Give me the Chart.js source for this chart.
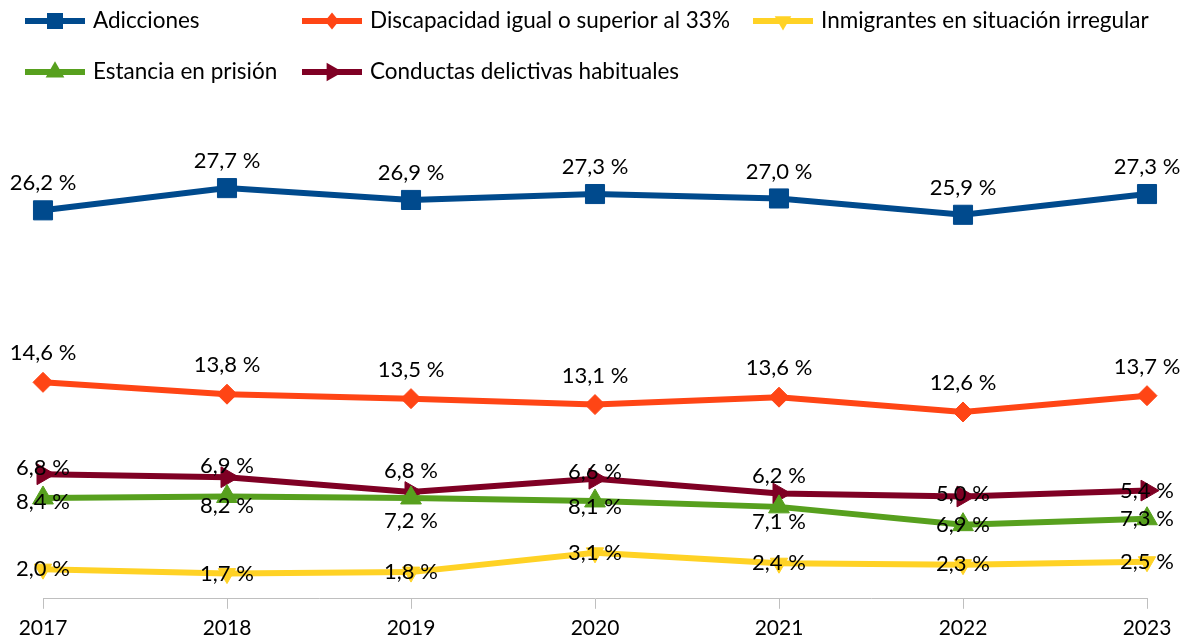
<!DOCTYPE html>
<html>
<head>
<meta charset="utf-8">
<style>
  html, body { margin: 0; padding: 0; background: #ffffff; }
  #wrap { width: 1181px; height: 639px; }
</style>
<script src="https://cdn.jsdelivr.net/npm/chart.js@4.4.1/dist/chart.umd.min.js"></script>
</head>
<body>
<div id="wrap"><canvas id="c" width="1181" height="639"></canvas></div>
<script>
// ---- Datos ----
const years = ['2017', '2018', '2019', '2020', '2021', '2022', '2023'];
const seriesNames = [
  'Adicciones',
  'Discapacidad igual o superior al 33%',
  'Inmigrantes en situación irregular',
  'Estancia en prisión',
  'Conductas delictivas habituales'
];
const adicciones = [26.2, 27.7, 26.9, 27.3, 27.0, 25.9, 27.3];
const discapacidad = [14.6, 13.8, 13.5, 13.1, 13.6, 12.6, 13.7];
const inmigrantes = [2.0, 1.7, 1.8, 3.1, 2.4, 2.3, 2.5];
const estanciaPrision = [6.8, 6.9, 6.8, 6.6, 6.2, 5.0, 5.4];
const conductasDelictivas = [8.4, 8.2, 7.2, 8.1, 7.1, 6.9, 7.3];
// Etiquetas de datos tal como aparecen en el gráfico original
const adiccionesEtiquetas = adicciones;
const discapacidadEtiquetas = discapacidad;
const inmigrantesEtiquetas = inmigrantes;
const estanciaPrisionEtiquetas = [8.4, 8.2, 7.2, 8.1, 7.1, 6.9, 7.3];
const conductasDelictivasEtiquetas = [6.8, 6.9, 6.8, 6.6, 6.2, 5.0, 5.4];

// ---- Estilos ----
const FONT = 'Lato, "Open Sans", sans-serif';
const colors = ['#004A8D', '#FF4515', '#FFD225', '#57A01E', '#7F0024'];
const markers = [
  { style: 'rect', radius: 13.5, rotation: 0, legendSize: 8 },
  { style: 'rectRot', radius: 10, rotation: 0, legendSize: 7 },
  { style: 'triangle', radius: 10, rotation: 180, legendSize: 8 },
  { style: 'triangle', radius: 12, rotation: 0, legendSize: 9 },
  { style: 'triangle', radius: 12, rotation: 90, legendSize: 9 }
];
// desplazamiento vertical de cada etiqueta respecto a su punto
const labelDy = [
  [-27, -27, -27, -27, -27, -27, -27],
  [-29, -29, -29, -29, -29, -29, -29],
  [0, 0, 0, 0, 0, -1, 0],
  [4, 9, 23, 6, 15, 0, 0],
  [-6, -11, -21, -7, -18, -3, 0]
];

const values = [adicciones, discapacidad, inmigrantes, estanciaPrision, conductasDelictivas];
const labelValues = [adiccionesEtiquetas, discapacidadEtiquetas, inmigrantesEtiquetas,
                     estanciaPrisionEtiquetas, conductasDelictivasEtiquetas];

const datasets = values.map((v, i) => ({
  label: seriesNames[i],
  data: v,
  borderColor: colors[i],
  backgroundColor: colors[i],
  borderWidth: 6,
  pointStyle: markers[i].style,
  pointRadius: markers[i].radius,
  pointRotation: markers[i].rotation,
  pointBackgroundColor: colors[i],
  pointBorderColor: colors[i],
  pointBorderWidth: 1,
  tension: 0,
  clip: false,
  fill: false
}));

function fmt(v) {
  return v.toFixed(1).replace('.', ',') + ' %';
}

const dataLabelsPlugin = {
  id: 'dataLabels',
  afterDatasetsDraw(chart) {
    const ctx = chart.ctx;
    ctx.save();
    ctx.font = '22px ' + FONT;
    ctx.fillStyle = '#000000';
    ctx.textAlign = 'center';
    ctx.textBaseline = 'middle';
    chart.data.datasets.forEach((ds, di) => {
      const meta = chart.getDatasetMeta(di);
      meta.data.forEach((pt, pi) => {
        ctx.fillText(fmt(labelValues[di][pi]), pt.x, pt.y + labelDy[di][pi]);
      });
    });
    ctx.restore();
  }
};

function drawMarker(ctx, style, rotation, x, y, s) {
  ctx.beginPath();
  if (style === 'rect') {
    ctx.rect(x - s, y - s, 2 * s, 2 * s);
  } else if (style === 'rectRot') {
    ctx.moveTo(x, y - s * 1.2);
    ctx.lineTo(x + s, y);
    ctx.lineTo(x, y + s * 1.2);
    ctx.lineTo(x - s, y);
  } else {
    const r = s * 1.2;
    let a = rotation * Math.PI / 180;
    for (let k = 0; k < 3; k++) {
      const px = x + Math.sin(a) * r, py = y - Math.cos(a) * r;
      if (k === 0) ctx.moveTo(px, py); else ctx.lineTo(px, py);
      a += 2 * Math.PI / 3;
    }
  }
  ctx.closePath();
  ctx.fill();
}

const legendPlugin = {
  id: 'gridLegend',
  afterDraw(chart) {
    const ctx = chart.ctx;
    const cols = [25, 302, 753];
    const rows = [21, 72];
    ctx.save();
    ctx.font = '22.5px ' + FONT;
    ctx.textAlign = 'left';
    ctx.textBaseline = 'middle';
    seriesNames.forEach((name, i) => {
      const x = cols[i % 3];
      const y = rows[Math.floor(i / 3)];
      ctx.strokeStyle = colors[i];
      ctx.fillStyle = colors[i];
      ctx.lineWidth = 6;
      ctx.beginPath();
      ctx.moveTo(x, y);
      ctx.lineTo(x + 60, y);
      ctx.stroke();
      drawMarker(ctx, markers[i].style, markers[i].rotation, x + 30, y, markers[i].legendSize);
      ctx.fillStyle = '#000000';
      ctx.fillText(name, x + 68, y);
    });
    ctx.restore();
  }
};

new Chart(document.getElementById('c'), {
  type: 'line',
  data: { labels: years, datasets: datasets },
  options: {
    responsive: false,
    animation: false,
    layout: { padding: { left: 43, right: 34, top: 154, bottom: -9 } },
    plugins: { legend: { display: false }, tooltip: { enabled: false } },
    scales: {
      x: {
        offset: false,
        grid: { display: true, drawOnChartArea: false, drawTicks: true, tickLength: 10, color: '#bfbfbf', lineWidth: 1 },
        border: { display: true, color: '#bfbfbf', width: 1 },
        ticks: { color: '#000000', font: { family: FONT, size: 21 }, padding: 7, maxRotation: 0, autoSkip: false }
      },
      y: { display: false, min: 0, max: 30 }
    }
  },
  plugins: [dataLabelsPlugin, legendPlugin]
});
</script>
</body>
</html>
